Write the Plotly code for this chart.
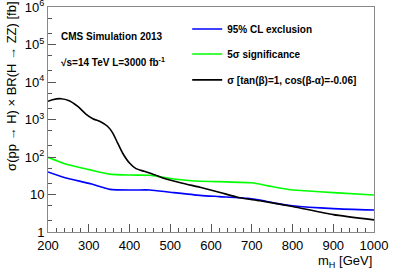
import plotly.graph_objects as go

# ---- data ----
mh_black = [200, 211, 232, 252, 273, 293, 310, 330, 346, 359, 371, 383, 400, 416, 436, 463, 480, 530, 573, 620, 670, 720, 800, 900, 1000]
xs_black = [3050, 3370, 3590, 3170, 2240, 1400, 1050, 860, 660, 435, 235, 128, 69, 49, 41.5, 33, 28, 20, 15.6, 11.5, 8.2, 6.8, 4.8, 2.9, 2.1]

mh_green = [200, 243, 301, 351, 400, 450, 480, 520, 560, 620, 700, 740, 790, 830, 900, 1000]
xs_green = [98, 65, 46, 35, 33, 32.5, 29, 25, 23, 22, 20.5, 17, 13.6, 12.6, 11.2, 9.7]

mh_blue = [200, 242, 307, 352, 409, 450, 500, 573, 620, 690, 720, 760, 800, 900, 1000]
xs_blue = [40, 28, 19, 13.7, 13.2, 13.2, 11.5, 9.5, 8.8, 7.9, 7.1, 5.8, 5.0, 4.2, 3.86]

names = ["95% CL exclusion", "5\u03c3 significance", "\u03c3 [tan(\u03b2)=1, cos(\u03b2-\u03b1)=-0.06]"]

ytick_vals = [1, 10, 100, 1e3, 1e4, 1e5, 1e6]
ytick_text = ["1", "10", "10<sup>2</sup>", "10<sup>3</sup>", "10<sup>4</sup>", "10<sup>5</sup>", "10<sup>6</sup>"]
xtick_vals = [200, 300, 400, 500, 600, 700, 800, 900, 1000]

FONT = "Liberation Sans, Arial, Helvetica, sans-serif"

fig = go.Figure()
fig.add_trace(go.Scatter(x=mh_blue, y=xs_blue, mode="lines", name=names[0], legend="legend",
                         line=dict(color="#0000ff", width=1.6, shape="spline", smoothing=0.6)))
fig.add_trace(go.Scatter(x=mh_green, y=xs_green, mode="lines", name=names[1], legend="legend2",
                         line=dict(color="#00ff00", width=1.6, shape="spline", smoothing=0.6)))
fig.add_trace(go.Scatter(x=mh_black, y=xs_black, mode="lines", name=names[2], legend="legend3",
                         line=dict(color="#000000", width=1.6, shape="spline", smoothing=0.6)))

leg_common = dict(x=0.427, xanchor="left", yanchor="middle", bgcolor="rgba(0,0,0,0)",
                  borderwidth=0, font=dict(family=FONT, size=10, weight="bold"), itemwidth=30)

fig.update_layout(
    width=399, height=270,
    margin=dict(l=48, r=25, t=7, b=38),
    paper_bgcolor="white", plot_bgcolor="white",
    font=dict(family=FONT, color="black"),
    showlegend=True,
    legend=dict(y=0.902, **leg_common),
    legend2=dict(y=0.791, **leg_common),
    legend3=dict(y=0.676, **leg_common),
    xaxis=dict(range=[200, 1000], tickvals=xtick_vals, ticks="inside", ticklen=8,
               tickcolor="#555", linecolor="#888", linewidth=1, mirror=True, showgrid=False,
               zeroline=False, tickfont=dict(size=13), ticklabelstandoff=1, automargin=False,
               minor=dict(dtick=20, ticks="inside", ticklen=4, tickcolor="#555", showgrid=False)),
    yaxis=dict(type="log", range=[0, 6], tickvals=ytick_vals, ticktext=ytick_text,
               ticks="inside", ticklen=8, tickcolor="#555", linecolor="#888", linewidth=1,
               mirror=True, showgrid=False, zeroline=False, tickfont=dict(size=13),
               ticklabeloverflow="allow", automargin=False,
               minor=dict(ticks="inside", ticklen=4, tickcolor="#555", showgrid=False)),
)

fig.add_annotation(text="\u03c3(pp \u2192 H) \u00d7 BR(H \u2192 ZZ) [fb]", xref="paper", yref="paper",
                   x=-0.11, y=1.03, xanchor="center", yanchor="top", textangle=-90,
                   showarrow=False, font=dict(size=13))
fig.add_annotation(text="m<sub>H</sub> [GeV]", xref="paper", yref="paper",
                   x=1.0, y=-0.085, xanchor="right", yanchor="top",
                   showarrow=False, font=dict(size=13))
fig.add_annotation(text="CMS Simulation 2013", xref="paper", yref="paper",
                   x=0.035, y=0.87, xanchor="left", yanchor="middle",
                   showarrow=False, font=dict(size=10, weight="bold"))
fig.add_annotation(text="\u221as=14 TeV L=3000 fb<sup>-1</sup>", xref="paper", yref="paper",
                   x=0.035, y=0.755, xanchor="left", yanchor="middle",
                   showarrow=False, font=dict(size=10, weight="bold"))

fig.write_html("out.html", config={"displayModeBar": False},
               post_script="document.body.style.margin='0';document.body.style.overflow='hidden';")
